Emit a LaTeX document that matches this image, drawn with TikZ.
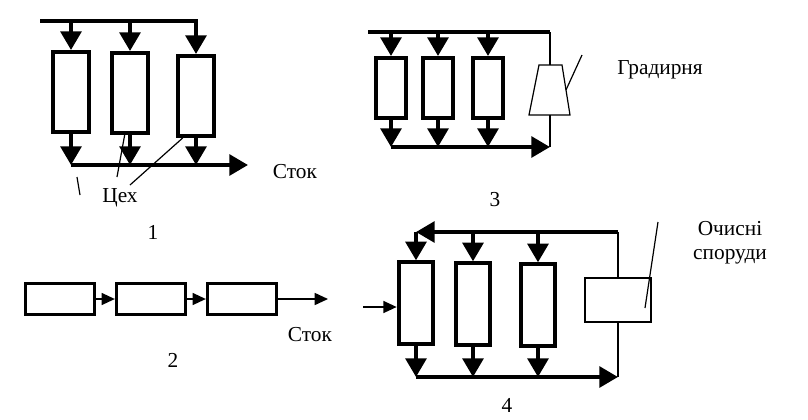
\documentclass[tikz,border=0pt]{standalone}
\usepackage{fontspec}
\setmainfont{Liberation Serif}
\usetikzlibrary{arrows.meta,positioning,shapes.geometric}

\begin{document}
\begin{tikzpicture}[x=0.75pt,y=-0.75pt,
    >={Triangle[length=14pt,width=15.5pt]},
    main/.style={line width=3pt},
    thinline/.style={line width=0.9pt},
    small/.style={line width=1.2pt,-{Triangle[length=10pt,width=9pt]}},
    shop/.style={draw,line width=3pt,inner sep=0pt,minimum width=27pt,minimum height=60pt},
    shopsmall/.style={draw,line width=3pt,inner sep=0pt,minimum width=22.5pt,minimum height=45pt},
    shopwide/.style={draw,line width=2.2pt,inner sep=0pt,minimum width=52pt,minimum height=23pt},
    lbl/.style={font=\fontsize{16}{18}\selectfont}]
\useasboundingbox (0,0) rectangle (808,419);

% 1
\foreach \x/\y/\name in {71/92/A1, 130/93/A2, 196/96/A3}
    \node[shop] (\name) at (\x,\y) {};
\coordinate (ain) at (40,21);
\coordinate (aout) at (248,165);
\draw[main,->] (ain) -| (A3.north);
\foreach \name in {A1,A2}
    \draw[main,->] (\name.north |- ain) -- (\name.north);
\foreach \name in {A1,A2,A3}
    \draw[main,->] (\name.south) -- (\name.south |- aout);
\draw[main,->] (A1.south |- aout) -- (aout);
\node[lbl] (stok1) at (295,172) {Сток};
\node[lbl] (cex) at (120,198) {Цех};
\coordinate (l1) at (117,177);
\coordinate (l2) at (130,185);
\draw[thinline] (l1) -- ([xshift=-4pt]A2.south);
\draw[thinline] (l2) -- ([xshift=5pt]A3.south west);
\draw[thinline] (77,177) -- (80,195);
\node[lbl] (n1) at (153,232) {1};

% 3
\foreach \x/\name in {391/C1, 438/C2, 488/C3}
    \node[shopsmall] (\name) at (\x,88) {};
% cooling tower
\coordinate (gtop) at (550,65);
\coordinate (gbot) at (550,115);
\coordinate (gside) at (566,90);
\draw[thinline] (539,65) -- (562,65) -- (570,115) -- (529,115) -- cycle;
\coordinate (cin) at (368,32);
\coordinate (cout) at (550,147);
\draw[main] (cin) -- (gtop |- cin);
\draw[thinline] (gtop |- cin) -- (gtop);
\foreach \name in {C1,C2,C3}
{
    \draw[main,->] (\name.north |- cin) -- (\name.north);
    \draw[main,->] (\name.south) -- (\name.south |- cout);
}
\draw[main,->] (C1.south |- cout) -- (cout);
\draw[thinline] (cout) -- (gbot);
\coordinate (g1) at (582,55);
\draw[thinline] (gside) -- (g1);
\node[lbl] (gradl) at (660,70) {Градирня};
\node[lbl] (n3) at (495,200) {3};

% 2
\foreach \x/\name in {60/B1, 151/B2, 242/B3}
    \node[shopwide] (\name) at (\x,299) {};
\coordinate (bout) at (328,299);
\draw[small] (B1) -- (B2);
\draw[small] (B2) -- (B3);
\draw[small] (B3.east) -- (bout);
\node[lbl] (stok2) at (310,335) {Сток};
\node[lbl] (n2) at (173,360) {2};

% 4
\foreach \x/\y/\name in {416/303/D1, 473/304/D2, 538/305/D3}
    \node[shop,minimum width=26pt,minimum height=61pt] (\name) at (\x,\y) {};
\node[draw,thinline,fill=white,inner sep=0pt,minimum width=49.5pt,minimum height=33pt] (och) at (618,300) {};
\coordinate (dtop) at (618,232);
\coordinate (dbot) at (618,377);
\coordinate (din) at (363,307);
\draw[thinline] (och.north) -- (dtop);
\draw[thinline] (och.south) -- (dbot);
\draw[main,->] (dtop) -- (D1.north |- dtop);
\foreach \name in {D1,D2,D3}
{
    \draw[main,->] (\name.north |- dtop) -- (\name.north);
    \draw[main,->] (\name.south) -- (\name.south |- dbot);
}
\draw[main,->] (D1.south |- dbot) -- (dbot);
\draw[small] (din) -- (D1.west |- din);
\coordinate (o1) at (645,308);
\coordinate (o2) at (658,222);
\draw[thinline] (o1) -- (o2);
\node[lbl,align=center] (ochl) at (730,243) {Очисні\\споруди};
\node[lbl] (n4) at (507,405) {4};

% \draw[step=20,gray!30] (0,0) grid (808,419);
\end{tikzpicture}
\end{document}
